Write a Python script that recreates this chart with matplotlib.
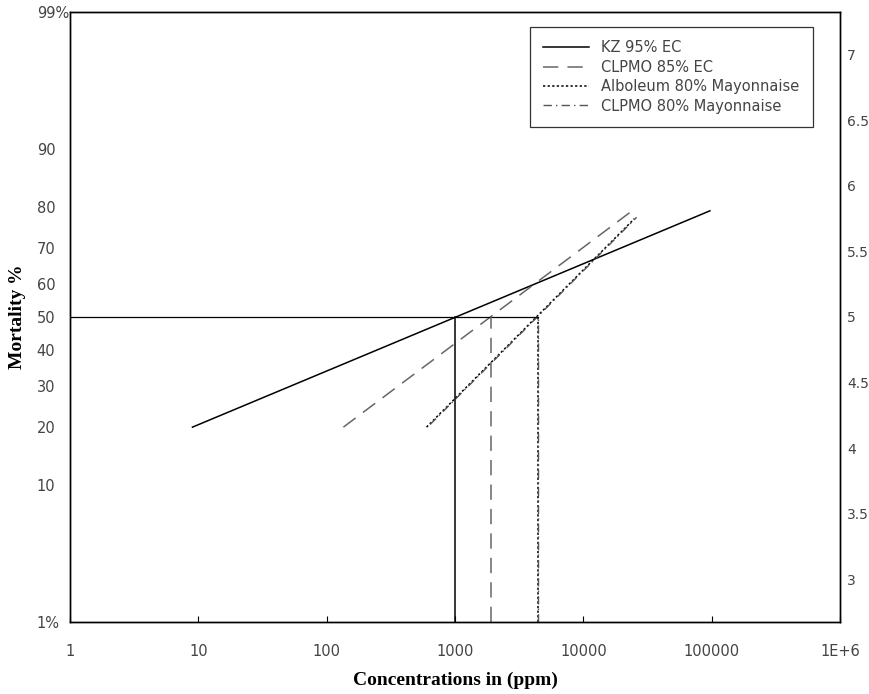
import matplotlib
matplotlib.use("Agg")
import matplotlib.pyplot as plt
from statistics import NormalDist

# ---- data (concentrations in ppm, response in probits) ----
series_names = ["KZ 95% EC", "CLPMO 85% EC", "Alboleum 80% Mayonnaise", "CLPMO 80% Mayonnaise"]
kz_conc = [9, 97000]
kz_probit = [4.16, 5.81]
clpmo_ec_conc = [135, 24000]
clpmo_ec_probit = [4.16, 5.81]
alboleum_conc = [600, 25000]
alboleum_probit = [4.16, 5.75]
clpmo_mayo_conc = [640, 26000]
clpmo_mayo_probit = [4.18, 5.76]
lc50 = [1000, 1900, 4400, 4450]

x_ticks = [1, 10, 100, 1000, 10000, 100000, 1000000]
x_ticklabels = ["1", "10", "100", "1000", "10000", "100000", "1E+6"]
mortality_pct = [1, 10, 20, 30, 40, 50, 60, 70, 80, 90, 99]
mortality_labels = ["1%", "10", "20", "30", "40", "50", "60", "70", "80", "90", "99%"]
probit_ticks = [3, 3.5, 4, 4.5, 5, 5.5, 6, 6.5, 7]
probit_labels = ["3", "3.5", "4", "4.5", "5", "5.5", "6", "6.5", "7"]

nd = NormalDist()
def to_probit(p):
    return 5 + nd.inv_cdf(p / 100.0)

ymin, ymax = to_probit(1), to_probit(99)

fig = plt.figure(figsize=(8.69, 6.94), dpi=100)
ax = fig.add_axes([70/869, 72/694, 770/869, 610/694])
ax.set_xscale("log")
ax.set_xlim(1, 1e6)
ax.set_ylim(ymin, ymax)

styles = [
    dict(color="black", lw=1.1, ls="-"),
    dict(color="#666666", lw=1.1, ls=(0, (10, 6))),
    dict(color="black", lw=1.1, ls=(0, (1.5, 1.5))),
    dict(color="#555555", lw=1.0, ls=(0, (6, 3, 1, 3))),
]
concs = [kz_conc, clpmo_ec_conc, alboleum_conc, clpmo_mayo_conc]
probs = [kz_probit, clpmo_ec_probit, alboleum_probit, clpmo_mayo_probit]
for name, c, p, st in zip(series_names, concs, probs, styles):
    ax.plot(c, p, label=name, **st)

# LC50 reference lines
ax.plot([1, max(lc50)], [5, 5], color="black", lw=0.9)
for v, st in zip(lc50, styles):
    ax.plot([v, v], [ymin, 5], color=st["color"], lw=st["lw"], ls=st["ls"])

tick_col = "#444444"
ax.set_xticks(x_ticks)
ax.set_xticklabels(x_ticklabels)
ax.minorticks_off()
ax.tick_params(axis="x", direction="in", length=4, pad=16, labelsize=10.5, labelcolor=tick_col)

ax.set_yticks([to_probit(m) for m in mortality_pct])
ax.set_yticklabels(mortality_labels)
ax.tick_params(axis="y", length=0, pad=24, labelsize=10.5, labelcolor=tick_col)
for lbl in ax.get_yticklabels():
    lbl.set_horizontalalignment("left")

ax2 = ax.twinx()
ax2.set_ylim(ymin, ymax)
ax2.set_yticks(probit_ticks)
ax2.set_yticklabels(probit_labels)
ax2.tick_params(axis="y", length=0, pad=5, labelsize=10, labelcolor=tick_col)

for a in (ax, ax2):
    for s in a.spines.values():
        s.set_color("black")
        s.set_linewidth(1.0)

ax.set_ylabel("Mortality %", family="Liberation Serif", fontweight="bold", fontsize=14)
ax.yaxis.set_label_coords(-0.057, 0.5)
ax.set_xlabel("Concentrations in (ppm)", family="Liberation Serif", fontweight="bold", fontsize=14, labelpad=9)

leg = ax.legend(loc="upper left", bbox_to_anchor=(0.597, 0.975), frameon=True, fancybox=False,
                edgecolor="black", fontsize=10.5, handlelength=3.2, borderpad=0.9,
                labelspacing=0.3, borderaxespad=0, handletextpad=0.8)
leg.get_frame().set_linewidth(0.9)
for t in leg.get_texts():
    t.set_color(tick_col)

fig.savefig("out.png", dpi=100)
